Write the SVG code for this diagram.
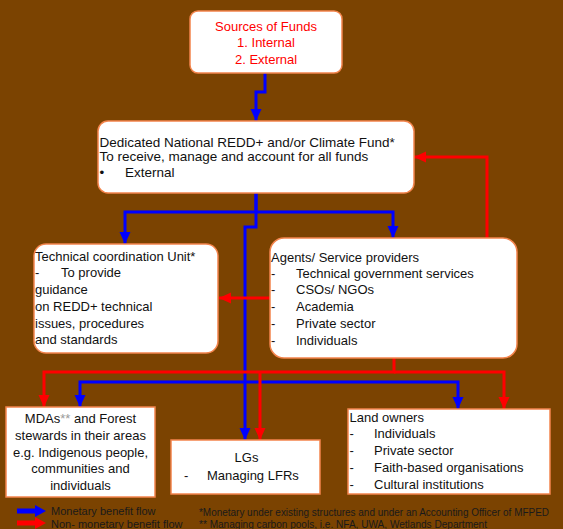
<svg xmlns="http://www.w3.org/2000/svg" width="563" height="529" viewBox="0 0 563 529">
<defs>
<style>
.box{fill:#fff;stroke:#F3844C;stroke-width:1.5}
.t{font-family:"Liberation Sans",Arial,sans-serif;font-size:13px;fill:#111}
.red{fill:#FF0000}
.b{fill:none;stroke:#0000FF;stroke-width:3}
.r{fill:none;stroke:#FF0000;stroke-width:3}
.lg{font-family:"Liberation Sans",Arial,sans-serif;font-size:10px;fill:#1a1a1a}
</style>
<marker id="ab" markerUnits="userSpaceOnUse" markerWidth="12" markerHeight="12" viewBox="0 0 12 12" refX="12" refY="6" orient="auto"><path d="M0,0.5 L12,6 L0,11.5 Z" fill="#0000FF"/></marker>
<marker id="ar" markerUnits="userSpaceOnUse" markerWidth="12" markerHeight="12" viewBox="0 0 12 12" refX="12" refY="6" orient="auto"><path d="M0,0.5 L12,6 L0,11.5 Z" fill="#FF0000"/></marker>
</defs>
<rect x="0" y="0" width="563" height="529" fill="#7B4301"/>

<g id="connectors">
<path class="b" d="M265,73 V92 H256 V121" marker-end="url(#ab)"/>
<path class="b" d="M256,193 V212 H125 V244" marker-end="url(#ab)"/>
<path class="b" d="M256,212 H393 V238" marker-end="url(#ab)"/>
<path class="b" d="M256,193 V227 H245 V440" marker-end="url(#ab)"/>
<path class="b" d="M245,382 H80 V407" marker-end="url(#ab)"/>
<path class="b" d="M245,382 H458 V409" marker-end="url(#ab)"/>
<path class="r" d="M487,238 V157 H414" marker-end="url(#ar)"/>
<path class="r" d="M270,298 H219" marker-end="url(#ar)"/>
<path class="r" d="M394,358 V372 H44 V407" marker-end="url(#ar)"/>
<path class="r" d="M394,372 H504 V409" marker-end="url(#ar)"/>
<path class="r" d="M260,372 V440" marker-end="url(#ar)"/>
</g>

<g id="sources">
<rect class="box" x="190" y="11" width="152" height="62" rx="8"/>
<text class="t red" text-anchor="middle" x="266"><tspan x="266" y="31">Sources of Funds</tspan><tspan x="266" y="47">1. Internal</tspan><tspan x="266" y="64">2. External</tspan></text>
</g>

<g id="fund">
<rect class="box" x="98" y="121" width="316" height="72" rx="10"/>
<text class="t" style="font-size:13.5px"><tspan x="99.5" y="147">Dedicated National REDD+ and/or Climate Fund*</tspan><tspan x="99.5" y="161">To receive, manage and account for all funds</tspan><tspan x="99.5" y="177">•</tspan><tspan x="125" y="177">External</tspan></text>
</g>

<g id="tech">
<rect class="box" x="34" y="244" width="184" height="109" rx="12"/>
<text class="t"><tspan x="35" y="261">Technical coordination Unit*</tspan><tspan x="35" y="277">-</tspan><tspan x="61" y="277">To provide</tspan><tspan x="35" y="294">guidance</tspan><tspan x="35" y="311">on REDD+ technical</tspan><tspan x="35" y="328">issues, procedures</tspan><tspan x="35" y="344">and standards</tspan></text>
</g>

<g id="agents">
<rect class="box" x="270" y="238" width="247" height="120" rx="14"/>
<text class="t"><tspan x="271" y="262">Agents/ Service providers</tspan><tspan x="271" y="278">-</tspan><tspan x="296" y="278">Technical government services</tspan><tspan x="271" y="294">-</tspan><tspan x="296" y="294">CSOs/ NGOs</tspan><tspan x="271" y="311">-</tspan><tspan x="296" y="311">Academia</tspan><tspan x="271" y="328">-</tspan><tspan x="296" y="328">Private sector</tspan><tspan x="271" y="345">-</tspan><tspan x="296" y="345">Individuals</tspan></text>
</g>

<g id="mdas">
<rect class="box" x="6" y="407" width="149" height="90"/>
<text class="t" text-anchor="middle"><tspan x="80.5" y="423">MDAs<tspan fill="#9a9a9a">**</tspan> and Forest</tspan><tspan x="80.5" y="440">stewards in their areas</tspan><tspan x="80.5" y="457">e.g. Indigenous people,</tspan><tspan x="80.5" y="473">communities and</tspan><tspan x="80.5" y="490">individuals</tspan></text>
</g>

<g id="lgs">
<rect class="box" x="171" y="440" width="149" height="54"/>
<text class="t"><tspan x="246.5" y="462" text-anchor="middle">LGs</tspan><tspan x="184" y="480">-</tspan><tspan x="207" y="480">Managing LFRs</tspan></text>
</g>

<g id="landowners">
<rect class="box" x="348" y="409" width="202" height="85"/>
<text class="t"><tspan x="349.5" y="422">Land owners</tspan><tspan x="349.5" y="438">-</tspan><tspan x="374" y="438">Individuals</tspan><tspan x="349.5" y="455">-</tspan><tspan x="374" y="455">Private sector</tspan><tspan x="349.5" y="472">-</tspan><tspan x="374" y="472">Faith-based organisations</tspan><tspan x="349.5" y="489">-</tspan><tspan x="374" y="489">Cultural institutions</tspan></text>
</g>

<g id="legend">
<path d="M17,508.5 H35 V505 L46,511 L35,517 V513.5 H17 Z" fill="#0000FF"/>
<path d="M17,520.5 H35 V517 L46,523 L35,529 V525.5 H17 Z" fill="#FF0000"/>
<text class="lg" x="51" y="514.5" style="font-size:11px">Monetary benefit flow</text>
<text class="lg" x="51" y="528" style="font-size:11px">Non- monetary benefit flow</text>
<text class="lg" x="199" y="515.5" textLength="350" lengthAdjust="spacingAndGlyphs">*Monetary under existing structures and under an Accounting Officer of MFPED</text>
<text class="lg" x="199" y="527.5" textLength="288" lengthAdjust="spacingAndGlyphs">** Managing carbon pools, i.e. NFA, UWA, Wetlands Department</text>
</g>
</svg>
